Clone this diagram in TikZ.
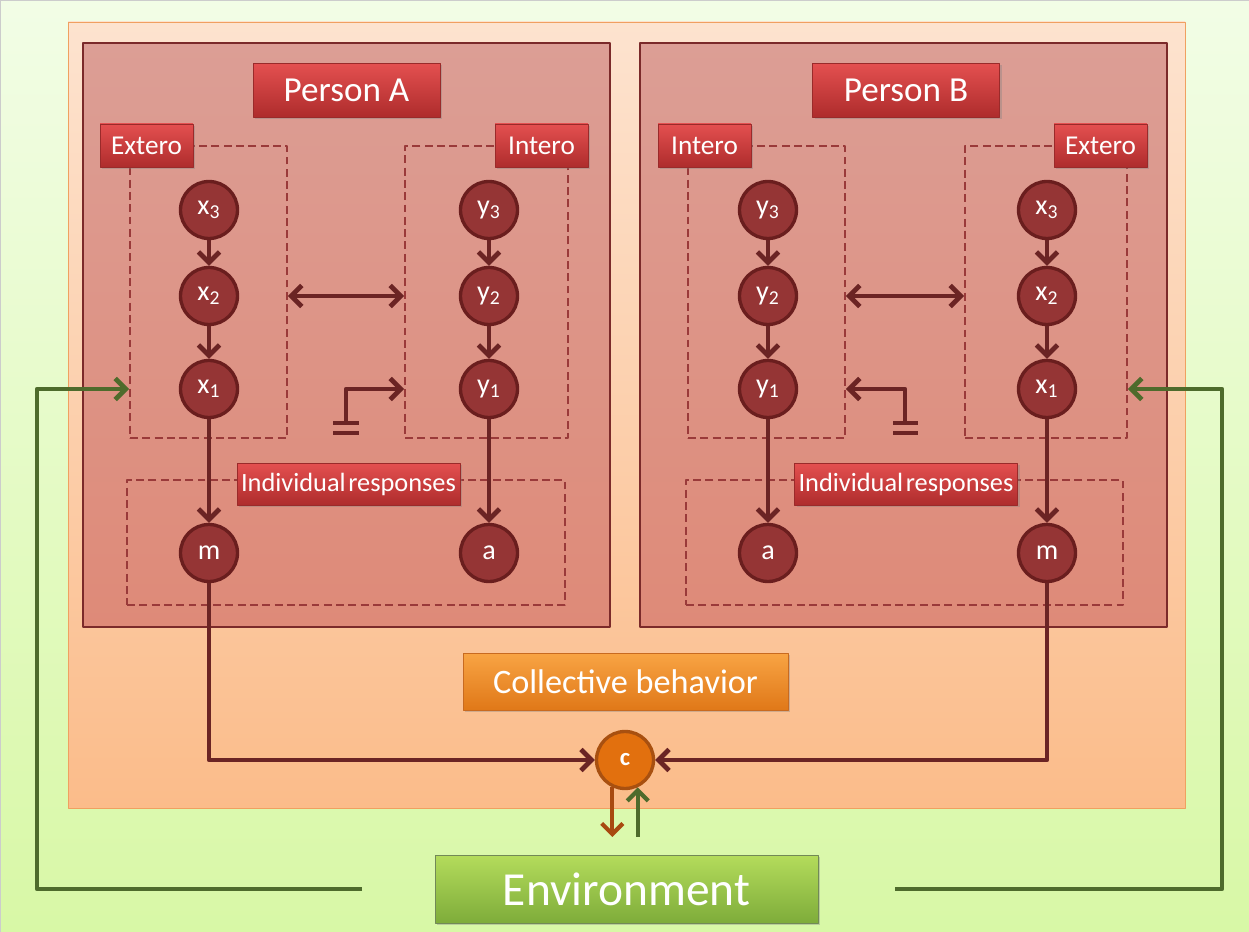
\documentclass[tikz,border=0pt]{standalone}
\usepackage{fontspec}
\setmainfont{Carlito}
\usetikzlibrary{arrows.meta,shadows}

\definecolor{bgtop}{HTML}{F2FDE6}
\definecolor{bgbot}{HTML}{D8F8A6}
\definecolor{cbtop}{HTML}{FDE3CF}
\definecolor{cbbot}{HTML}{FBBC8A}
\definecolor{cbline}{HTML}{F0A060}
\definecolor{ptop}{HTML}{DC9E95}
\definecolor{pbot}{HTML}{DE8A78}
\definecolor{pborder}{HTML}{7B2A2A}
\definecolor{tagtop}{HTML}{E45050}
\definecolor{tagbot}{HTML}{AE2C2C}
\definecolor{tagline}{HTML}{9A2A2A}
\definecolor{varfill}{HTML}{953535}
\definecolor{varline}{HTML}{6A1E1E}
\definecolor{dashcol}{HTML}{9A3A3A}
\definecolor{arrcol}{HTML}{6B2424}
\definecolor{ortop}{HTML}{F8A444}
\definecolor{orbot}{HTML}{E07818}
\definecolor{orline}{HTML}{C86A20}
\definecolor{cfill}{HTML}{E2700E}
\definecolor{cline}{HTML}{A85010}
\definecolor{envtop}{HTML}{B4DC5C}
\definecolor{envbot}{HTML}{7EAC3A}
\definecolor{envline}{HTML}{4E6B2C}
\definecolor{cdown}{HTML}{A84A10}

\begin{document}
\begin{tikzpicture}[x=0.02cm, y=-0.02cm, line join=round,
  >={Straight Barb[length=6pt,width=12pt]},
  panel/.style={draw=pborder, line width=1.4pt, top color=ptop, bottom color=pbot},
  tag/.style={draw=tagline, line width=0.5pt, top color=tagtop, bottom color=tagbot, text=white,
    inner sep=0pt, drop shadow={opacity=0.35, shadow xshift=1.2pt, shadow yshift=-1.2pt}},
  small tag/.style={tag, minimum width=1.86cm, minimum height=0.86cm, font=\fontsize{15.5}{15.5}\selectfont},
  var/.style={circle, draw=varline, fill=varfill, line width=1.9pt, minimum size=1.14cm,
    inner sep=0pt, text=white, font=\fontsize{16}{16}\selectfont},
  dbox/.style={draw=dashcol, line width=1.1pt, dash pattern=on 4.5pt off 2.5pt, inner sep=0pt},
  arr/.style={->, draw=arrcol, line width=2.7pt},
  garr/.style={->, draw=envline, line width=2.7pt},
  gbar/.style={draw=arrcol, line width=2.8pt}]

\useasboundingbox (0,0) rectangle (1249,932);
\shade[top color=bgtop, bottom color=bgbot, draw=gray!40] (0,0) rectangle (1249,932);
\draw[cbline, top color=cbtop, bottom color=cbbot] (68,22) rectangle (1185,808);

% the two persons
\draw[panel] (83,43) rectangle (610,627);
\draw[panel] (640,43) rectangle (1167,627);

% dashed groups
\node[dbox, minimum width=3.14cm, minimum height=5.84cm] (extA) at (208.5,292) {};
\node[dbox, minimum width=3.26cm, minimum height=5.84cm] (intA) at (486.5,292) {};
\node[dbox, minimum width=3.14cm, minimum height=5.84cm] (intB) at (766.5,292) {};
\node[dbox, minimum width=3.24cm, minimum height=5.84cm] (extB) at (1046,292) {};
\node[dbox, minimum width=8.76cm, minimum height=2.5cm] (respA) at (346,542.5) {};
\node[dbox, minimum width=8.74cm, minimum height=2.5cm] (respB) at (904.5,542.5) {};

% labels
\node[tag, minimum width=3.74cm, minimum height=1.08cm, font=\fontsize{20}{20}\selectfont] (personA) at (346.5,90) {Person A};
\node[tag, minimum width=3.74cm, minimum height=1.08cm, font=\fontsize{20}{20}\selectfont] (personB) at (906,90) {Person B};
\node[small tag] (extTagA) at (146.5,145.5) {Extero};
\node[small tag] (intTagA) at (541.5,145.5) {Intero};
\node[small tag] (intTagB) at (704.5,145.5) {Intero};
\node[small tag] (extTagB) at (1100.5,145.5) {Extero};
\node[tag, minimum width=4.46cm, minimum height=0.84cm, font=\fontsize{15}{15}\selectfont] (respTagA) at (348.5,484) {Individual\hspace{0.1em}responses};
\node[tag, minimum width=4.46cm, minimum height=0.84cm, font=\fontsize{15}{15}\selectfont] (respTagB) at (906,484) {Individual\hspace{0.1em}responses};

% variables
\node[var] (x3A) at (209,210) {x\textsubscript{3}};
\node[var] (x2A) at (209,296) {x\textsubscript{2}};
\node[var] (x1A) at (209,389) {x\textsubscript{1}};
\node[var] (y3A) at (489,210) {y\textsubscript{3}};
\node[var] (y2A) at (489,296) {y\textsubscript{2}};
\node[var] (y1A) at (489,389) {y\textsubscript{1}};
\node[var] (mA) at (209,553) {m};
\node[var] (aA) at (489,553) {a};

\node[var] (y3B) at (768,210) {y\textsubscript{3}};
\node[var] (y2B) at (768,296) {y\textsubscript{2}};
\node[var] (y1B) at (768,389) {y\textsubscript{1}};
\node[var] (x3B) at (1047,210) {x\textsubscript{3}};
\node[var] (x2B) at (1047,296) {x\textsubscript{2}};
\node[var] (x1B) at (1047,389) {x\textsubscript{1}};
\node[var] (aB) at (768,553) {a};
\node[var] (mB) at (1047,553) {m};

\draw[arr] (x3A) -- (x2A);
\draw[arr] (x2A) -- (x1A);
\draw[arr] (y3A) -- (y2A);
\draw[arr] (y2A) -- (y1A);
\draw[arr] (y3B) -- (y2B);
\draw[arr] (y2B) -- (y1B);
\draw[arr] (x3B) -- (x2B);
\draw[arr] (x2B) -- (x1B);
\draw[arr, <->] (extA.east |- x2A) -- (intA.west |- x2A);
\draw[arr, <->] (intB.east |- y2B) -- (extB.west |- y2B);
\draw[arr] (x1A) -- (mA);
\draw[arr] (y1A) -- (aA);
\draw[arr] (y1B) -- (aB);
\draw[arr] (x1B) -- (mB);

% grounds
\coordinate (gndA) at (346,421);
\coordinate (gndB) at (905,421);
\draw[arr] (gndA) |- (intA.west |- y1A);
\draw[arr] (gndB) |- (intB.east |- y1B);
\draw[gbar] (333,423) -- (359,423) (333,433) -- (359,433);
\draw[gbar] (893,423) -- (918,423) (893,433) -- (918,433);

% collective part
\node[tag, draw=orline, top color=ortop, bottom color=orbot, minimum width=6.5cm, minimum height=1.14cm,
  font=\fontsize{19.5}{19.5}\selectfont] (collective) at (625.5,681.5) {Collective behavior};
\node[var, draw=cline, fill=cfill, minimum size=1.14cm, font=\fontsize{14}{14}\selectfont\bfseries] (c) at (625,760) {c};
\draw[arr] (mA) |- (c);
\draw[arr] (mB) |- (c);

\node[tag, draw=envline!80, top color=envtop, bottom color=envbot, minimum width=7.66cm, minimum height=1.36cm,
  font=\fontsize{27}{27}\selectfont] (env) at (626.5,889) {Environment};

\coordinate (envTop) at (625,837);
\draw[->, draw=cdown, line width=2.4pt] (c.245) -- (c.245 |- envTop);
\draw[garr, line width=2.4pt] (c.295 |- envTop) -- (c.295);

\coordinate (envL) at (362,889);
\coordinate (loopL) at (37,389);
\coordinate (envR) at (895,889);
\coordinate (loopR) at (1222,389);
\draw[garr] (envL) -| (loopL) -- (extA.west |- x1A);
\draw[garr] (envR) -| (loopR) -- (extB.east |- x1B);

\end{tikzpicture}
\end{document}
